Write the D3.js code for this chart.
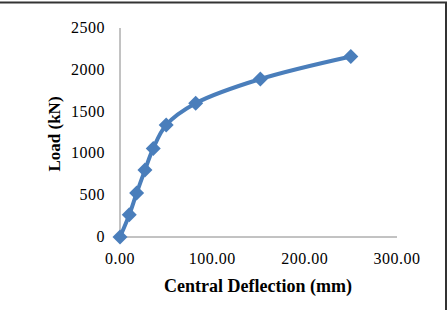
<!DOCTYPE html>
<html>
<head>
<meta charset="utf-8">
<script src="https://cdn.jsdelivr.net/npm/d3@7"></script>
<style>
  body { margin: 0; background: #fff; }
  text { font-family: "Liberation Serif", "Times New Roman", serif; fill: #000; }
</style>
</head>
<body>
<div id="chart"></div>
<script>
// deflection (mm) vs load (kN)
const deflection = [0, 10, 18, 27, 36, 50, 82, 152, 250];
const load = [0, 265, 525, 800, 1060, 1340, 1600, 1890, 2160];
const xTicks = [0, 100, 200, 300];
const yTicks = [0, 500, 1000, 1500, 2000, 2500];

const width = 448, height = 310;
const svg = d3.select("#chart").append("svg")
    .attr("width", width)
    .attr("height", height);

// frame (top and right edges visible in the picture)
svg.append("line").attr("x1", 0).attr("x2", 447).attr("y1", 2.5).attr("y2", 2.5)
    .attr("stroke", "#333").attr("stroke-width", 2);
svg.append("line").attr("x1", 446).attr("x2", 446).attr("y1", 2).attr("y2", 310)
    .attr("stroke", "#333").attr("stroke-width", 2);

const x = d3.scaleLinear().domain([0, 300]).range([120, 397]);
const y = d3.scaleLinear().domain([0, 2500]).range([237, 28]);

// axes
svg.append("line").attr("x1", x(0)).attr("x2", x(300)).attr("y1", y(0)).attr("y2", y(0))
    .attr("stroke", "#868686").attr("stroke-width", 1);
svg.append("line").attr("x1", x(0)).attr("x2", x(0)).attr("y1", y(0)).attr("y2", y(2500))
    .attr("stroke", "#868686").attr("stroke-width", 1);

svg.selectAll(".ytick")
    .data(yTicks)
    .enter().append("text")
    .attr("x", 105)
    .attr("y", d => y(d) + 5)
    .attr("text-anchor", "end")
    .style("font-size", "16px")
    .style("letter-spacing", "0.5px")
    .text(d => d);

svg.selectAll(".xtick")
    .data(xTicks)
    .enter().append("text")
    .attr("x", d => x(d))
    .attr("y", 264)
    .attr("text-anchor", "middle")
    .style("font-size", "16px")
    .style("letter-spacing", "0.5px")
    .text(d => d.toFixed(2));

svg.append("text")
    .attr("x", 258)
    .attr("y", 292)
    .attr("text-anchor", "middle")
    .style("font-size", "18px")
    .style("font-weight", "bold")
    .text("Central Deflection (mm)");

svg.append("text")
    .attr("transform", "translate(60,134) rotate(-90)")
    .attr("text-anchor", "middle")
    .style("font-size", "17px")
    .style("font-weight", "bold")
    .text("Load (kN)");

const pts = deflection.map((d, i) => [d, load[i]]);

svg.append("path")
    .datum(pts)
    .attr("fill", "none")
    .attr("stroke", "#4a7ebb")
    .attr("stroke-width", 4)
    .attr("d", d3.line().x(d => x(d[0])).y(d => y(d[1])).curve(d3.curveCatmullRom.alpha(0.5)));

svg.selectAll(".pt")
    .data(pts)
    .enter().append("path")
    .attr("transform", d => `translate(${x(d[0])},${y(d[1])})`)
    .attr("d", "M0,-7.5L7.5,0L0,7.5L-7.5,0Z")
    .attr("fill", "#4a7ebb");
</script>
</body>
</html>
